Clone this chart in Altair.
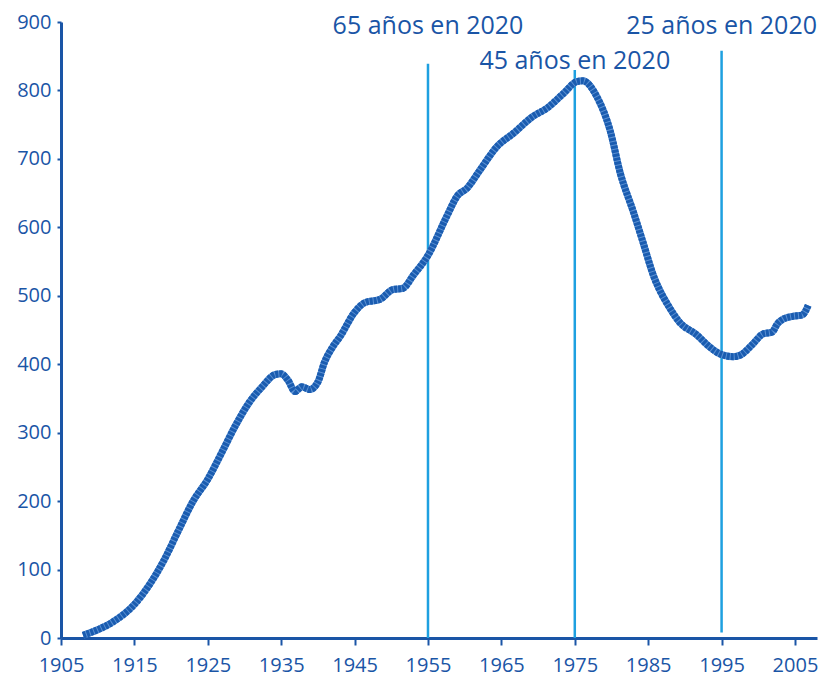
import altair as alt
import pandas as pd

years = [1908, 1910, 1912, 1915, 1917, 1919, 1921, 1923, 1925, 1927, 1928.7, 1930.7, 1932.4,
         1934.2, 1935, 1935.9, 1936.9, 1937.8, 1938.9, 1940, 1940.9, 1942, 1943, 1945, 1946.4,
         1948.5, 1950.2, 1951.6, 1953, 1955, 1957.6, 1959, 1960.3, 1962.1, 1964.4, 1966.6,
         1969.3, 1971.2, 1973.4, 1975.3, 1976.1, 1978, 1979.8, 1981.2, 1983, 1984.3, 1985.7,
         1988, 1989.3, 1991.6, 1993.4, 1994.8, 1996.6, 1997.5, 1999.3, 2000.6, 2001.9, 2002.6,
         2003.4, 2004.7, 2006, 2006.8]
values = [4, 12, 23, 49, 77, 113, 157, 200, 232, 273, 309, 345, 367,
          385, 386, 377, 360, 367, 363, 374, 403, 425, 440, 476, 490,
          495, 509, 511, 530, 559, 617, 646, 657, 684, 718, 737,
          762, 774, 795, 813, 814, 791, 742, 679, 622, 578, 530,
          481, 461, 443, 425, 415, 411, 413, 430, 444, 447, 459,
          466, 470, 472, 486]

vline_years = [1955, 1975, 1995]
vline_top = [839, 830, 858]
vline_bottom = [0, 0, 8]

label_texts = ["65 años en 2020", "45 años en 2020", "25 años en 2020"]
label_x = [1955, 1975, 1995]
label_y = [882, 832, 882]

x_ticks = [1905, 1915, 1925, 1935, 1945, 1955, 1965, 1975, 1985, 1995, 2005]
y_ticks = [0, 100, 200, 300, 400, 500, 600, 700, 800, 900]

dark = "#1a55a6"
light = "#1ea0e0"
font = "Open Sans"

df = pd.DataFrame({"year": years, "value": values})
vl = pd.DataFrame({"year": vline_years, "top": vline_top, "bottom": vline_bottom})
lab = pd.DataFrame({"text": label_texts, "year": label_x, "value": label_y})

xscale = alt.Scale(domain=[1905, 2008], nice=False, zero=False)
yscale = alt.Scale(domain=[0, 900], nice=False)

xaxis = alt.Axis(values=x_ticks, format="d", title=None, grid=False, domainColor=dark,
                 domainWidth=3, tickColor=dark, tickWidth=2, tickSize=7, labelColor=dark,
                 labelFontSize=20, labelFont=font, labelPadding=10, labelFlush=False,
                 labelOverlap=False)
yaxis = alt.Axis(values=y_ticks, title=None, grid=False, domainColor=dark, domainWidth=3,
                 tickColor=dark, tickWidth=2, tickSize=4, labelColor=dark, labelFontSize=20,
                 labelFont=font, labelPadding=6, labelFlush=False)

rules = alt.Chart(vl).mark_rule(color=light, strokeWidth=2.5).encode(
    x=alt.X("year:Q", scale=xscale, axis=xaxis),
    y=alt.Y("top:Q", scale=yscale, axis=yaxis),
    y2="bottom:Q",
)

line_base = alt.Chart(df).mark_line(color="#5b90d2", strokeWidth=7, interpolate="monotone").encode(
    x=alt.X("year:Q", scale=xscale),
    y=alt.Y("value:Q", scale=yscale),
)

line = alt.Chart(df).mark_line(color="#1a5cb0", strokeWidth=7, interpolate="monotone",
                               strokeDash=[3, 1]).encode(
    x=alt.X("year:Q", scale=xscale),
    y=alt.Y("value:Q", scale=yscale),
)

texts = alt.Chart(lab).mark_text(color=dark, fontSize=25, font=font, baseline="alphabetic",
                                 align="center").encode(
    x=alt.X("year:Q", scale=xscale),
    y=alt.Y("value:Q", scale=yscale),
    text="text:N",
)

chart = alt.layer(rules, line_base, line, texts).properties(
    width=756, height=616,
    background="white",
    autosize=alt.AutoSizeParams(type="none"),
    padding={"left": 53, "top": 14, "right": 5, "bottom": 40},
).configure_view(stroke=None)

chart.save("out.html", embed_options={"renderer": "svg", "actions": False})
